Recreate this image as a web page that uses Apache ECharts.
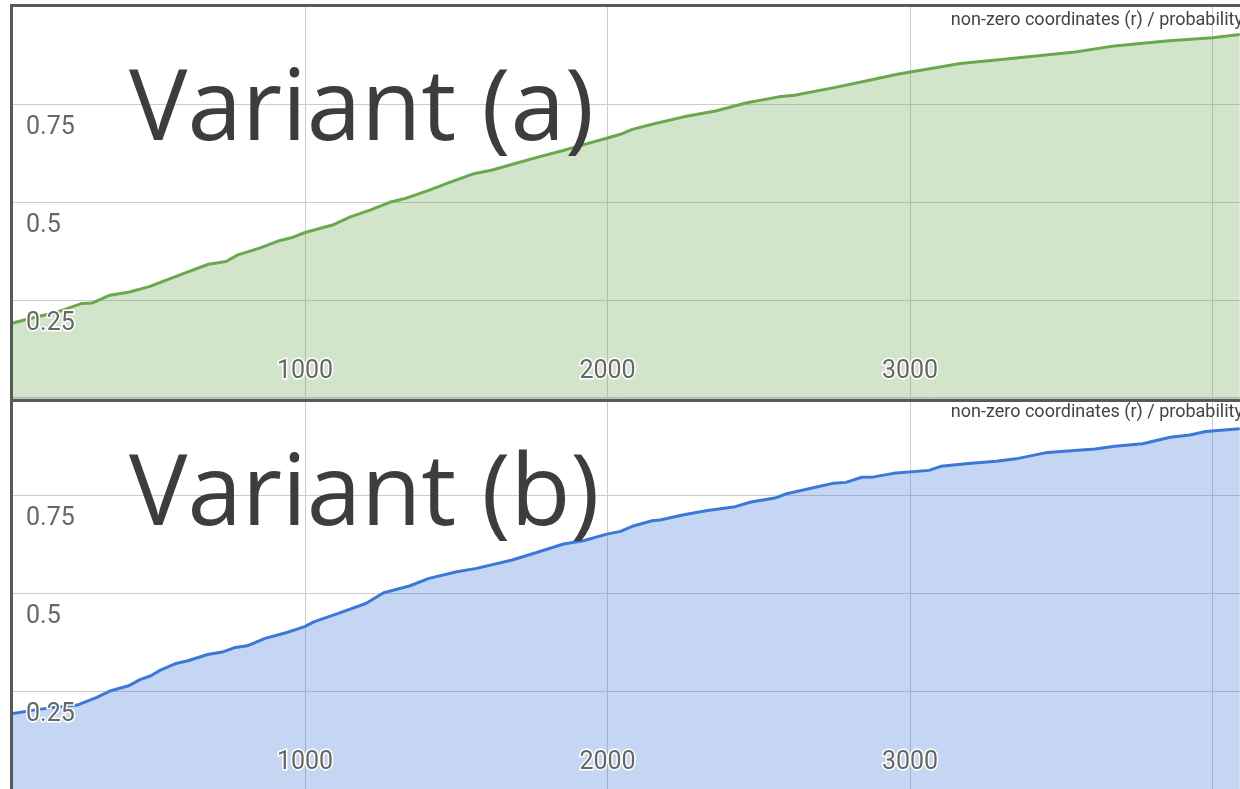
<!DOCTYPE html>
<html>
<head>
<meta charset="utf-8">
<script src="https://cdn.jsdelivr.net/npm/echarts@6/dist/echarts.min.js"></script>
<style>
  html, body { margin: 0; padding: 0; background: #fff; }
  #chart { width: 1240px; height: 789px; }
</style>
</head>
<body>
<div id="chart"></div>
<script>
// Variant (a): non-zero coordinates r vs. probability
const xA = [25, 81, 185, 263, 296, 355, 420, 485, 550, 615, 681, 739, 778, 850, 915, 961, 1000, 1091, 1150, 1215, 1280, 1332, 1411, 1476, 1554, 1619, 1698, 1776, 1854, 1906, 2000, 2043, 2082, 2148, 2252, 2357, 2461, 2566, 2618, 2749, 2854, 2958, 3050, 3167, 3285, 3416, 3546, 3677, 3847, 4000, 4090];
const yA = [0.190, 0.2015, 0.221, 0.242, 0.243, 0.263, 0.271, 0.285, 0.304, 0.323, 0.342, 0.349, 0.366, 0.383, 0.402, 0.411, 0.423, 0.442, 0.463, 0.480, 0.500, 0.510, 0.531, 0.550, 0.572, 0.5825, 0.5995, 0.6165, 0.632, 0.644, 0.664, 0.6735, 0.686, 0.699, 0.718, 0.733, 0.754, 0.769, 0.773, 0.7925, 0.8095, 0.8265, 0.839, 0.854, 0.863, 0.873, 0.8835, 0.899, 0.9115, 0.920, 0.928];

// Variant (b)
const xB = [25, 103, 169, 247, 312, 358, 417, 456, 489, 522, 574, 613, 678, 731, 770, 809, 868, 940, 999, 1031, 1110, 1201, 1260, 1345, 1410, 1502, 1567, 1685, 1763, 1855, 1920, 1998, 2043, 2082, 2148, 2174, 2252, 2331, 2422, 2475, 2553, 2592, 2684, 2749, 2788, 2841, 2880, 2945, 3063, 3102, 3193, 3285, 3350, 3455, 3612, 3677, 3769, 3860, 3925, 3978, 4090];
const yB = [0.193, 0.203, 0.210, 0.216, 0.2355, 0.2526, 0.265, 0.2815, 0.290, 0.305, 0.322, 0.329, 0.345, 0.352, 0.363, 0.367, 0.386, 0.401, 0.416, 0.4286, 0.450, 0.475, 0.5025, 0.5196, 0.539, 0.556, 0.5646, 0.586, 0.6046, 0.6267, 0.635, 0.652, 0.659, 0.672, 0.686, 0.688, 0.7015, 0.712, 0.722, 0.734, 0.744, 0.755, 0.771, 0.782, 0.784, 0.797, 0.798, 0.807, 0.8146, 0.825, 0.832, 0.8376, 0.844, 0.8605, 0.869, 0.876, 0.8827, 0.899, 0.905, 0.914, 0.921];

const panelTitles = ['Variant (a)', 'Variant (b)'];
const axisTitle = 'non-zero coordinates (r) / probability';
const X_MAX = 4091;
const X_LAST_LABEL = 3000;

const pairs = (xs, ys) => xs.map((x, i) => [x, ys[i]]);

const grids = [
  { left: 2.5, right: 0, top: 6.3, height: 392, outerBoundsMode: 'none', containLabel: false },
  { left: 2.5, right: 0, top: 397.7, height: 392, outerBoundsMode: 'none', containLabel: false }
];

const labelFont = {
  fontFamily: 'Roboto', fontSize: 25, color: '#666',
  textBorderColor: '#fff', textBorderWidth: 3
};

// grid lines (under the area fill)
function gridX(i) {
  return {
    gridIndex: i, position: 'bottom', type: 'value', min: 0, max: X_MAX, interval: 1000, z: 0,
    axisLine: { show: false }, axisTick: { show: false }, axisLabel: { show: false },
    splitLine: { show: true, lineStyle: { color: '#cccccc', width: 1 } }
  };
}
function gridY(i) {
  return {
    gridIndex: i, position: 'left', type: 'value', min: 0, max: 1, interval: 0.25, z: 0,
    axisLine: { show: false }, axisTick: { show: false }, axisLabel: { show: false },
    splitLine: { show: true, lineStyle: { color: '#cccccc', width: 1 } }
  };
}
// tick labels (above the area fill)
function labelX(i) {
  return {
    gridIndex: i, position: 'bottom', type: 'value', min: 0, max: X_MAX, interval: 1000, z: 10,
    axisLine: { show: false }, axisTick: { show: false }, splitLine: { show: false },
    axisLabel: Object.assign({
      inside: true, margin: 14, showMinLabel: false, showMaxLabel: false,
      formatter: v => (v <= X_LAST_LABEL ? String(v) : '')
    }, labelFont)
  };
}
function labelY(i) {
  return {
    gridIndex: i, position: 'left', type: 'value', min: 0, max: 1, interval: 0.25, z: 10,
    axisLine: { show: false }, axisTick: { show: false }, splitLine: { show: false },
    axisLabel: Object.assign({
      inside: true, margin: 23.5, showMinLabel: false, showMaxLabel: false,
      align: 'left', verticalAlign: 'top', padding: [11, 0, 0, 0],
      formatter: v => String(v)
    }, labelFont)
  };
}

function areaSeries(i, xs, ys, color) {
  return {
    type: 'line', xAxisIndex: i, yAxisIndex: i,
    data: pairs(xs, ys), showSymbol: false, smooth: false, z: 2,
    lineStyle: { color: color, width: 3 },
    itemStyle: { color: color },
    areaStyle: { color: color, opacity: 0.3 }
  };
}

const borderColor = '#595959';
const titleStyle = { fontFamily: 'Roboto', fontSize: 18, fontWeight: 'normal', color: '#444' };

const option = {
  animation: false,
  grid: grids,
  xAxis: [gridX(0), gridX(1), labelX(0), labelX(1)],
  yAxis: [gridY(0), gridY(1), labelY(0), labelY(1)],
  title: [
    { text: axisTitle, right: -8, top: 6, textStyle: titleStyle },
    { text: axisTitle, right: -8, top: 398, textStyle: titleStyle }
  ],
  series: [
    areaSeries(0, xA, yA, '#6aa84f'),
    areaSeries(1, xB, yB, '#3c78d8')
  ],
  graphic: [
    { type: 'text', x: 129, y: 112, z: 20,
      style: { text: panelTitles[0], fontFamily: 'Open Sans', fontSize: 98, fill: '#3d3d3d', align: 'left', verticalAlign: 'middle' } },
    { type: 'text', x: 129, y: 497, z: 20,
      style: { text: panelTitles[1], fontFamily: 'Open Sans', fontSize: 98, fill: '#3d3d3d', align: 'left', verticalAlign: 'middle' } },
    { type: 'rect', z: 30, shape: { x: 0, y: 0, width: 10, height: 789 }, style: { fill: '#fff' } },
    { type: 'line', z: 31, shape: { x1: 10, y1: 5.5, x2: 1240, y2: 5.5 }, style: { stroke: borderColor, lineWidth: 3 } },
    { type: 'line', z: 31, shape: { x1: 10, y1: 400.5, x2: 1240, y2: 400.5 }, style: { stroke: borderColor, lineWidth: 3 } },
    { type: 'line', z: 31, shape: { x1: 11.5, y1: 4, x2: 11.5, y2: 789 }, style: { stroke: borderColor, lineWidth: 3 } }
  ]
};

const chart = echarts.init(document.getElementById('chart'), null, { renderer: 'canvas' });
chart.setOption(option);
</script>
</body>
</html>
